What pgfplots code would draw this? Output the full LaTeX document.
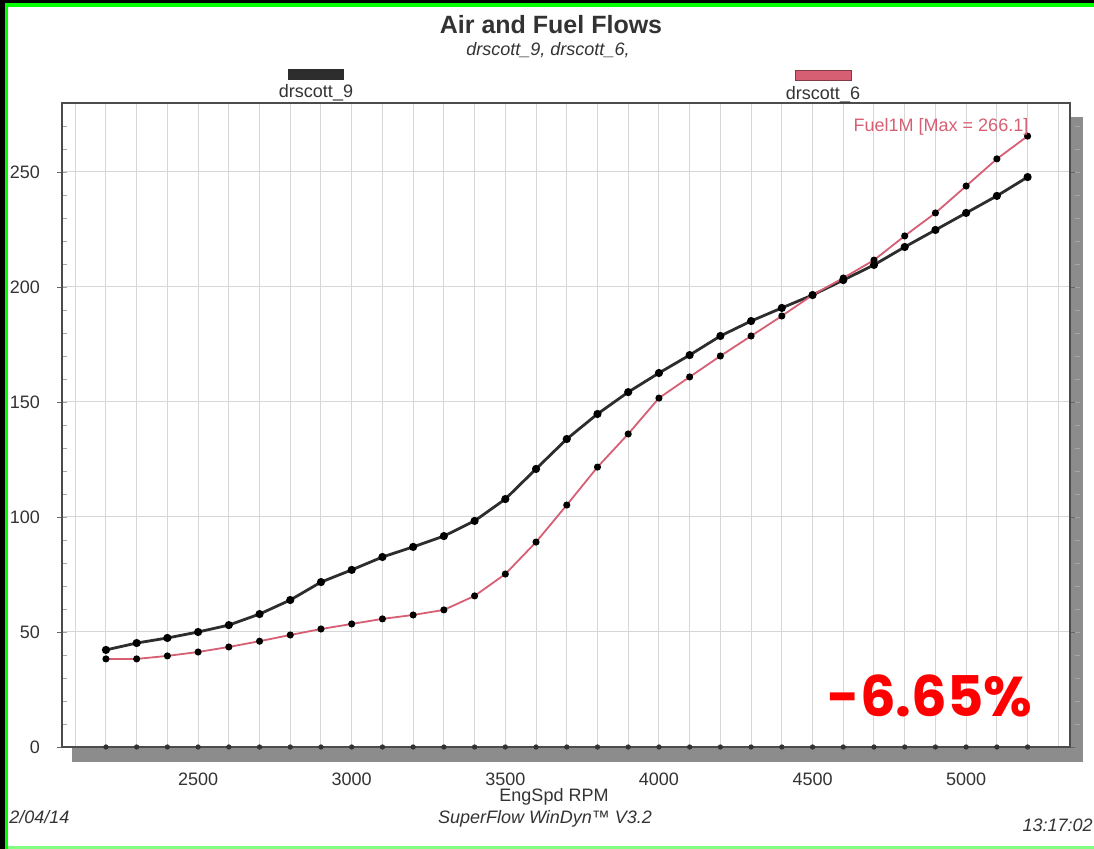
\documentclass[border=0pt]{standalone}
\usepackage{fontspec}
\setmainfont{Liberation Sans}
\newfontfamily\poppins{Poppins}
\usepackage{pgfplots}
\pgfplotsset{compat=1.18}

\definecolor{darkline}{RGB}{45,45,45}
\definecolor{fuelred}{RGB}{215,95,115}
\definecolor{gridgray}{RGB}{215,215,215}
\definecolor{scangreen}{RGB}{0,255,0}

\begin{document}
\begin{tikzpicture}
% page frame and shadow, in pixel units of the reference
\begin{scope}[x=0.5pt,y=-0.5pt]
  \path[use as bounding box] (0,0) rectangle (1094,849);
  \fill[white] (0,0) rectangle (1094,849);
  \fill[black] (0,0) rectangle (5,849);
  \fill[black] (0,0) rectangle (1094,3);
  \fill[scangreen] (5,3) rectangle (8,849);
  \fill[scangreen] (5,3) rectangle (1094,7);
  \fill[green!50] (8,846) rectangle (1094,849);
  \fill[black!45] (72,117) rectangle (1083,762);
  \coordinate (AX) at (62,747);
\end{scope}

\begin{axis}[
  at={(AX)}, anchor=south west,
  scale only axis, width=504pt, height=322pt,
  axis background/.style={fill=white},
  xmin=2057, xmax=5338, ymin=0, ymax=280,
  xtick={2500,3000,3500,4000,4500,5000},
  minor xtick={2100,2200,...,5300},
  ytick={0,50,...,250},
  minor ytick={10,20,...,270},
  xmajorgrids, xminorgrids, ymajorgrids,
  grid style={gridgray, line width=0.5pt},
  minor grid style={gridgray, line width=0.5pt},
  axis line style={black!70, line width=0.8pt},
  tick align=outside,
  major tick length=2.5pt, minor tick length=2.5pt,
  xtick style={draw=none},
  ytick style={black!60},
  minor y tick style={xshift=2.5pt, black!35},
  ticklabel style={font=\fontsize{9}{10}\selectfont, text=black!80},
  xticklabel style={yshift=-7pt},
  yticklabel style={xshift=-5pt},
  /pgf/number format/assume math mode=true,
  /pgf/number format/1000 sep={},
  clip=false,
]
% drscott_9
\addplot[darkline, line width=1.4pt, mark=*, mark size=1.3pt,
  mark options={fill=black, draw=black}] coordinates {
  (2200,42.2) (2300,45.2) (2400,47.4) (2500,50.0) (2600,53.0) (2700,57.8)
  (2800,63.9) (2900,71.7) (3000,77.0) (3100,82.6) (3200,87.0) (3300,91.7)
  (3400,98.3) (3500,107.8) (3600,120.9) (3700,133.9) (3800,144.8) (3900,154.3)
  (4000,162.6) (4100,170.4) (4200,178.7) (4300,185.2) (4400,190.9) (4500,196.5)
  (4600,203.0) (4700,209.6) (4800,217.4) (4900,224.8) (5000,232.2) (5100,239.6)
  (5200,247.8)
};
% drscott_6
\addplot[fuelred, line width=0.9pt, mark=*, mark size=1.3pt,
  mark options={fill=black, draw=black}] coordinates {
  (2200,38.3) (2300,38.3) (2400,39.6) (2500,41.3) (2600,43.5) (2700,46.0)
  (2800,48.7) (2900,51.3) (3000,53.5) (3100,55.7) (3200,57.4) (3300,59.6)
  (3400,65.7) (3500,75.2) (3600,89.1) (3700,105.2) (3800,121.7) (3900,136.1)
  (4000,151.7) (4100,160.9) (4200,170.0) (4300,178.7) (4400,187.4) (4500,196.5)
  (4600,203.9) (4700,211.7) (4800,222.2) (4900,232.2) (5000,243.9) (5100,255.7)
  (5200,265.6)
};
% zero channel
\addplot[only marks, mark=*, mark size=1.1pt, black!80] coordinates {
  (2200,0) (2300,0) (2400,0) (2500,0) (2600,0) (2700,0) (2800,0) (2900,0)
  (3000,0) (3100,0) (3200,0) (3300,0) (3400,0) (3500,0) (3600,0) (3700,0)
  (3800,0) (3900,0) (4000,0) (4100,0) (4200,0) (4300,0) (4400,0) (4500,0)
  (4600,0) (4700,0) (4800,0) (4900,0) (5000,0) (5100,0) (5200,0)
};
\end{axis}

% texts, in pixel units of the reference
\begin{scope}[x=0.5pt,y=-0.5pt, font=\fontsize{9}{10}\selectfont, text=black!80]
  \node[font=\bfseries\fontsize{12.5}{14}\selectfont] at (551,25) {Air and Fuel Flows};
  \node[font=\itshape\fontsize{9}{10}\selectfont] at (548,50) {drscott\_9, drscott\_6,};
  \fill[darkline] (288,69) rectangle (344,80);
  \node at (316,93) {drscott\_9};
  \filldraw[fill=fuelred, draw=fuelred!60!black, line width=0.5pt] (795,71) rectangle (851,81);
  \node at (823,95) {drscott\_6};
  \node[text=fuelred] at (941,127) {Fuel1M [Max = 266.1]};
  \node[text=red, font=\poppins\bfseries\fontsize{28}{30}\selectfont] at (930,696) {-6.65\%};
  \node at (554,797) {EngSpd RPM};
  \node[font=\itshape\fontsize{9}{10}\selectfont] at (545,819) {SuperFlow WinDyn™ V3.2};
  \node[font=\itshape\fontsize{9}{10}\selectfont, anchor=west, inner sep=0pt] at (9,817) {2/04/14};
  \node[font=\itshape\fontsize{9}{10}\selectfont, anchor=east, inner sep=0pt] at (1093,825) {13:17:02};
\end{scope}
\end{tikzpicture}
\end{document}
